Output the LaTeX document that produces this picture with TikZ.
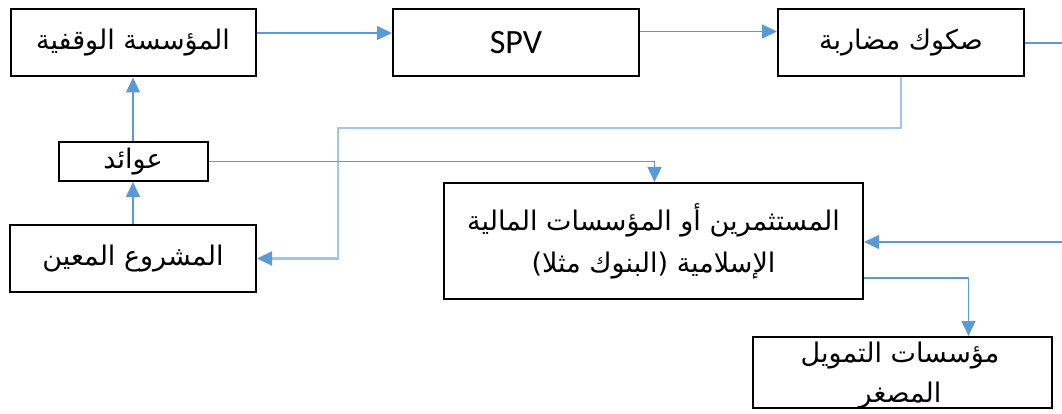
\documentclass[tikz,border=0pt]{standalone}
\usepackage{fontspec}
\setmainfont{Carlito}
\newfontfamily\arabicfont[Script=Arabic]{DejaVu Sans}
\TeXXeTstate=1
\usetikzlibrary{arrows.meta}
\usetikzlibrary{calc}

\definecolor{flowblue}{RGB}{91,155,213}
\definecolor{paleblue}{RGB}{160,198,232}
\newcommand{\ar}[1]{\arabicfont\beginR #1\endR}

\begin{document}
\begin{tikzpicture}[x=1pt,y=-1pt,
    box/.style={draw,line width=2pt,inner sep=0pt,align=center,font=\fontsize{27}{42}\selectfont},
    link/.style={draw=flowblue,line width=1.4pt,-{Triangle[length=15pt,width=14pt]}},
    plain/.style={draw=flowblue,line width=1.4pt},
    back/.style={draw=paleblue,line width=2.2pt,-{Triangle[length=15pt,width=14pt,color=flowblue]}}]
    \useasboundingbox (0,0) rectangle (1062,414);

    % Boxes:
    \node [box,minimum width=245pt,minimum height=67pt] (waqf) at (133,43) {\ar{المؤسسة الوقفية}};
    \node [box,minimum width=246pt,minimum height=67pt,font=\fontsize{34}{40}\selectfont] (spv) at (516,42.5) {SPV};
    \node [box,minimum width=246pt,minimum height=67pt] (sukuk) at (901,43) {\ar{صكوك مضاربة}};
    \node [box,minimum width=149pt,minimum height=39pt] (awaid) at (133,161.5) {\ar{عوائد}};
    \node [box,minimum width=246pt,minimum height=67pt] (project) at (133,258.5) {\ar{المشروع المعين}};
    \node [box,minimum width=419pt,minimum height=116pt] (investors) at (653.5,241)
        {\ar{المستثمرين أو المؤسسات المالية}\\ \ar{الإسلامية (البنوك مثلا)}};
    % the text runs out of this one at the bottom
    \node [box,minimum width=299pt,minimum height=71pt] (micro) at (902.5,372.5) {};
    \node [align=center,inner sep=0pt,font=\fontsize{27}{40}\selectfont] (microtext) at (900,376)
        {\ar{مؤسسات التمويل}\\ \ar{المصغر}};

    % Loose ends on the right:
    \coordinate (outA) at (1062,43);
    \coordinate (inB) at (1062,242);
    \coordinate (turn) at (338,128);

    % Arrows:
    \draw [link] ([yshift=10pt]waqf.east) -- ([yshift=10pt]waqf.east -| spv.west);
    \draw [link] ([yshift=11pt]spv.east) -- ([yshift=11pt]spv.east -| sukuk.west);
    \draw [plain] (sukuk.east) -- (outA);
    \draw [back] (sukuk.south) |- (turn) |- (project.east);
    \draw [link] (project.north) -- (awaid.south);
    \draw [link] (awaid.north) -- (waqf.south);
    \draw [link] (awaid.east) -| ([xshift=1pt]investors.north);
    \draw [link] (inB) -- (inB -| investors.east);
    \draw [link] ([yshift=-37pt]investors.east) -| ([xshift=66pt]micro.north);
\end{tikzpicture}
\end{document}
